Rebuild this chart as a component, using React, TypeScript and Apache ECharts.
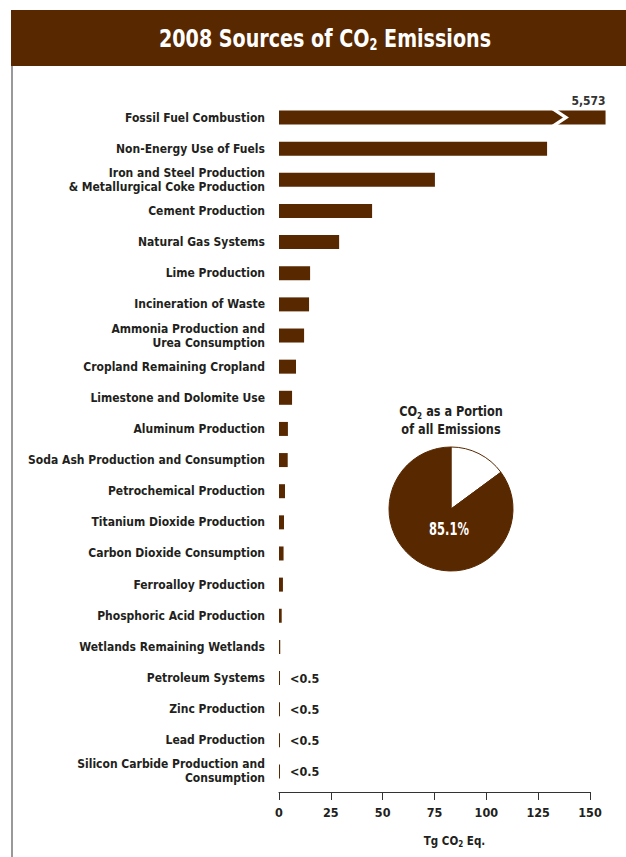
import React, { useEffect, useRef } from "react";
import * as echarts from "echarts";

const categories = [
  "Fossil Fuel Combustion",
  "Non-Energy Use of Fuels",
  "Iron and Steel Production\n& Metallurgical Coke Production",
  "Cement Production",
  "Natural Gas Systems",
  "Lime Production",
  "Incineration of Waste",
  "Ammonia Production and\nUrea Consumption",
  "Cropland Remaining Cropland",
  "Limestone and Dolomite Use",
  "Aluminum Production",
  "Soda Ash Production and Consumption",
  "Petrochemical Production",
  "Titanium Dioxide Production",
  "Carbon Dioxide Consumption",
  "Ferroalloy Production",
  "Phosphoric Acid Production",
  "Wetlands Remaining Wetlands",
  "Petroleum Systems",
  "Zinc Production",
  "Lead Production",
  "Silicon Carbide Production and\nConsumption",
];

const values = [
  5573, 129.3, 75.2, 44.9, 29.0, 15.0, 14.5, 12.1, 8.2, 6.3, 4.3, 4.2, 2.9,
  2.4, 2.2, 1.9, 1.3, 0.6, 0.4, 0.4, 0.3, 0.2,
];

const valueLabels = [
  "5,573", "", "", "", "", "", "", "", "", "", "", "", "", "", "", "", "", "",
  "<0.5", "<0.5", "<0.5", "<0.5",
];

const xTicks = [0, 25, 50, 75, 100, 125, 150];

// CO2 share of all emissions (other gases, CO2)
const pieNames = ["Other Gases", "CO2"];
const pieValues = [14.9, 85.1];

const AXIS_MAX = 150;
const BREAK_CAP = 157.5; // drawn length of the broken bar
const BREAK_AT = 135.5; // where the break symbol sits

const BROWN = "#582800";
const INK = "#231f20";
const FONT =
  "'Liberation Sans Narrow', 'DejaVu Sans Condensed', 'Arial Narrow', 'Roboto', sans-serif";

export default function App() {
  const ref = useRef<HTMLDivElement>(null);

  useEffect(() => {
    const chart = echarts.init(ref.current!, null, { renderer: "svg" });
    const plotValues = values.map((v) => (v > AXIS_MAX ? BREAK_CAP : v));

    const barData = plotValues.map((v, i) => {
      const lab = valueLabels[i];
      if (!lab) return { value: v };
      if (values[i] > AXIS_MAX) {
        return {
          value: v,
          label: {
            show: true,
            formatter: lab,
            position: ["100%", -4],
            align: "right",
            verticalAlign: "bottom",
            fontFamily: FONT,
            fontWeight: "bold",
            fontSize: 12,
            color: "#333",
          },
        };
      }
      return {
        value: v,
        label: {
          show: true,
          formatter: lab,
          position: "right",
          distance: 10,
          fontFamily: FONT,
          fontWeight: "bold",
          fontSize: 12.5,
          color: INK,
        },
      };
    });

    chart.setOption({
      animation: false,
      grid: { left: 279, right: 36, top: 102, bottom: 70, containLabel: false },
      xAxis: {
        type: "value",
        min: xTicks[0],
        max: xTicks[xTicks.length - 1],
        interval: xTicks[1] - xTicks[0],
        offset: 5,
        splitLine: { show: false },
        axisLine: { show: true, lineStyle: { color: "#333", width: 1 } },
        axisTick: { show: true, length: 8, lineStyle: { color: "#333" } },
        axisLabel: {
          fontFamily: FONT,
          fontWeight: "bold",
          fontSize: 12.5,
          color: INK,
          margin: 14,
        },
        name: "{a|Tg CO}{s|2}{a| Eq.}",
        nameLocation: "middle",
        nameGap: 42,
        nameTextStyle: {
          padding: [0, 0, 0, 40],
          rich: {
            a: { fontFamily: FONT, fontWeight: "bold", fontSize: 11.5, color: INK, lineHeight: 14 },
            s: { fontFamily: FONT, fontWeight: "bold", fontSize: 8, color: INK, lineHeight: 8, verticalAlign: "bottom" },
          },
        },
      },
      yAxis: {
        type: "category",
        data: categories,
        inverse: true,
        axisLine: { show: false },
        axisTick: { show: false },
        axisLabel: {
          fontFamily: FONT,
          fontWeight: "bold",
          fontSize: 12,
          color: INK,
          margin: 14,
          lineHeight: 14,
        },
      },
      series: [
        {
          type: "bar",
          data: barData,
          barWidth: 14,
          barMinHeight: 1,
          clip: false,
          itemStyle: { color: BROWN },
          emphasis: { disabled: true },
        },
        {
          type: "pie",
          center: [451, 509],
          radius: 62,
          startAngle: 90,
          clockwise: true,
          label: { show: false },
          labelLine: { show: false },
          emphasis: { disabled: true },
          data: [
            { name: pieNames[0], value: pieValues[0], itemStyle: { color: "#ffffff", borderColor: BROWN, borderWidth: 1 } },
            { name: pieNames[1], value: pieValues[1], itemStyle: { color: BROWN, borderColor: BROWN, borderWidth: 1 } },
          ],
        },
      ],
      graphic: [
        { id: "hdr", type: "rect", shape: { x: 11, y: 10, width: 615, height: 56 }, style: { fill: BROWN }, z: 10 },
        { id: "lline", type: "line", shape: { x1: 12, y1: 66, x2: 12, y2: 857 }, style: { stroke: "#777", lineWidth: 1.5 }, z: 10 },
        {
          id: "title",
          type: "text",
          x: 325,
          y: 38,
          scaleX: 0.85,
          z: 11,
          style: {
            text: "{a|2008 Sources of CO}{s|2}{a| Emissions}",
            align: "center",
            verticalAlign: "middle",
            rich: {
              a: { fontFamily: FONT, fontWeight: "bold", fontSize: 25, fill: "#fff", color: "#fff", lineHeight: 28 },
              s: { fontFamily: FONT, fontWeight: "bold", fontSize: 15, fill: "#fff", color: "#fff", lineHeight: 16, verticalAlign: "bottom" },
            },
          },
        },
        {
          id: "pietitle",
          type: "text",
          x: 451,
          y: 420,
          scaleX: 0.9,
          z: 11,
          style: {
            text: "{a|CO}{s|2}{a| as a Portion}\n{a|of all Emissions}",
            align: "center",
            verticalAlign: "middle",
            rich: {
              a: { fontFamily: FONT, fontWeight: "bold", fontSize: 14, fill: INK, color: INK, lineHeight: 18 },
              s: { fontFamily: FONT, fontWeight: "bold", fontSize: 9, fill: INK, color: INK, lineHeight: 10, verticalAlign: "bottom" },
            },
          },
        },
        {
          id: "pielabel",
          type: "text",
          x: 449,
          y: 529,
          scaleX: 0.75,
          z: 11,
          style: {
            text: `${pieValues[1]}%`,
            align: "center",
            verticalAlign: "middle",
            fontFamily: FONT,
            fontWeight: "bold",
            fontSize: 17,
            fill: "#fff",
          },
        },
      ],
    });

    const p = chart.convertToPixel({ seriesIndex: 0 }, [BREAK_AT, 0]) as number[];
    if (p && isFinite(p[0])) {
      const cx = p[0];
      const cy = p[1];
      const t = cy - 8;
      const b = cy + 8;
      chart.setOption({
        graphic: [
          {
            id: "break",
            type: "polygon",
            z: 12,
            shape: {
              points: [
                [cx - 9, t],
                [cx - 3, t],
                [cx + 9, cy],
                [cx - 3, b],
                [cx - 9, b],
                [cx + 3, cy],
              ],
            },
            style: { fill: "#fff" },
          },
        ],
      });
    }

    return () => chart.dispose();
  }, []);

  return (
    <div
      ref={ref}
      style={{ position: "fixed", left: 0, top: 0, width: 626, height: 857, background: "#fff" }}
    />
  );
}
